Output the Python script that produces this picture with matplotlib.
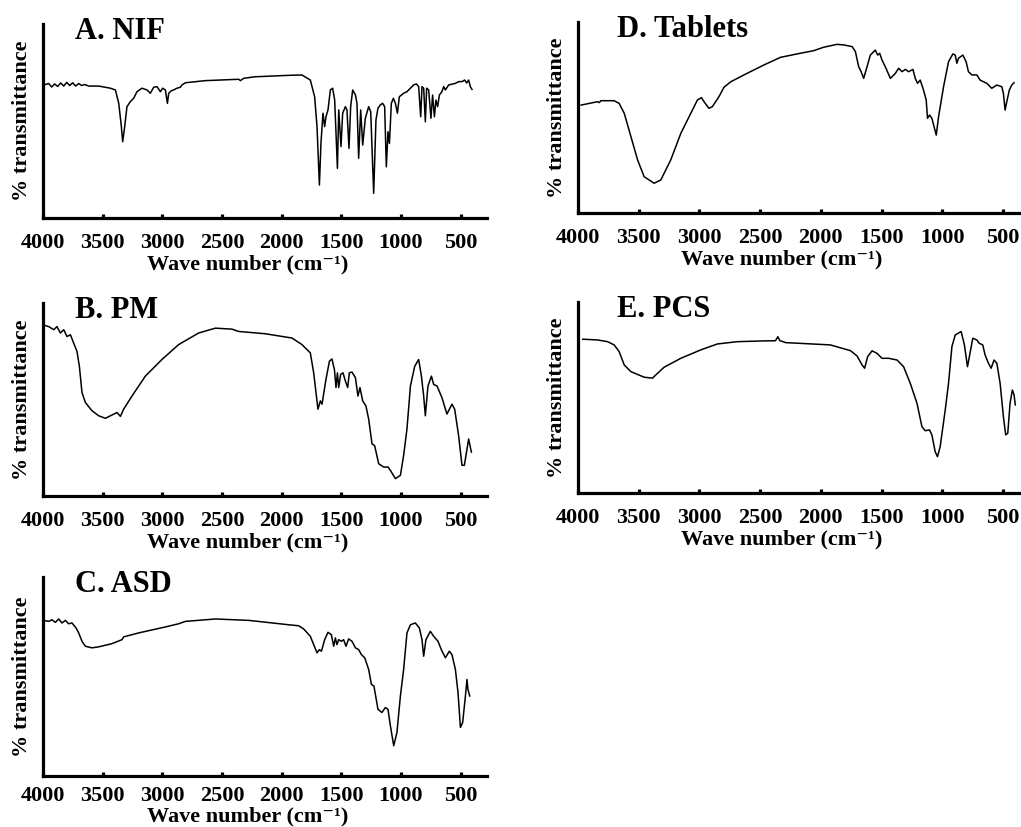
import matplotlib
matplotlib.use("Agg")
import matplotlib.pyplot as plt

plt.rcParams['font.family'] = ['Liberation Serif', 'DejaVu Serif']
plt.rcParams['font.weight'] = 'bold'

# FTIR spectra (wave number in cm-1, % transmittance on an arbitrary 0-100 scale)
nif_wn = [3994, 3952, 3927, 3902, 3877, 3852, 3826, 3801, 3776, 3751, 3726, 3701, 3676, 3650, 3617,
          3533, 3435, 3393, 3365, 3343, 3332, 3315, 3296, 3267, 3240, 3212, 3170, 3128, 3100, 3072,
          3044, 3016, 2997, 2974, 2957, 2946, 2924, 2904, 2877, 2848, 2835, 2806, 2639, 2360, 2345,
          2318, 2220, 1913, 1829, 1759, 1723, 1703, 1683, 1670, 1653, 1639, 1628, 1611, 1591, 1572,
          1555, 1532, 1521, 1502, 1488, 1465, 1452, 1435, 1421, 1404, 1381, 1368, 1354, 1337, 1320,
          1298, 1270, 1253, 1228, 1209, 1192, 1172, 1153, 1136, 1122, 1108, 1096, 1080, 1063, 1046,
          1029, 1013, 977, 949, 893, 870, 851, 834, 823, 809, 795, 784, 767, 748, 734, 719, 706, 692,
          677, 656, 641, 627, 599, 543, 516, 488, 465, 449, 432, 418, 404]
nif_t = [68.6, 69.3, 67.5, 69.1, 67.8, 69.6, 68.0, 69.9, 68.3, 69.7, 68.0, 69.3, 68.3, 68.8, 68.0,
         68.0, 66.9, 66.0, 59.1, 47.1, 39.3, 47.1, 57.4, 60.0, 61.7, 65.1, 66.9, 66.0, 64.3, 67.4,
         67.7, 65.1, 66.9, 66.0, 59.1, 64.3, 65.6, 66.0, 66.9, 67.4, 68.6, 69.7, 70.8, 71.5, 70.8,
         72.0, 72.8, 73.6, 73.7, 71.1, 62.5, 47.1, 17.0, 38.5, 54.0, 47.1, 52.2, 55.7, 66.0, 66.9,
         60.8, 25.6, 55.7, 36.8, 54.0, 57.4, 55.7, 35.9, 57.4, 66.0, 63.4, 59.1, 30.8, 55.7, 37.6,
         51.4, 57.4, 54.8, 12.7, 50.5, 56.6, 58.3, 59.1, 57.4, 26.4, 44.5, 38.5, 59.1, 61.7, 59.1,
         54.0, 62.5, 64.3, 65.1, 68.6, 69.1, 67.7, 52.2, 67.7, 66.9, 49.6, 66.9, 66.0, 51.4, 63.4,
         52.2, 60.8, 57.4, 63.4, 65.1, 67.7, 66.0, 68.6, 69.4, 70.3, 70.3, 71.1, 69.6, 71.1, 67.7, 66.3]

pm_wn = [4000, 3952, 3910, 3883, 3854, 3826, 3799, 3770, 3743, 3715, 3695, 3673, 3645, 3589, 3533,
         3477, 3422, 3380, 3351, 3324, 3254, 3142, 3003, 2863, 2695, 2555, 2416, 2360, 2136, 1913,
         1829, 1759, 1731, 1695, 1675, 1661, 1628, 1599, 1578, 1557, 1544, 1532, 1521, 1505, 1485,
         1465, 1446, 1432, 1410, 1381, 1360, 1343, 1320, 1293, 1270, 1242, 1220, 1186, 1144, 1108,
         1088, 1046, 1004, 977, 949, 920, 884, 851, 828, 809, 795, 773, 744, 725, 697, 656, 614,
         572, 549, 516, 488, 468, 432, 409]
pm_t = [88.7, 87.8, 86.2, 87.8, 84.5, 86.2, 82.7, 83.6, 79.3, 75.0, 67.3, 53.7, 48.6, 44.3, 41.7,
        40.4, 42.1, 43.4, 41.4, 45.1, 51.9, 62.2, 70.8, 78.5, 84.5, 87.0, 86.5, 85.3, 84.1, 81.9,
        78.5, 74.2, 63.9, 45.1, 49.4, 47.7, 60.5, 69.9, 71.1, 65.6, 56.3, 63.9, 56.3, 63.1, 63.9,
        59.6, 56.3, 63.9, 64.3, 61.4, 51.9, 56.3, 49.4, 46.8, 40.0, 27.2, 26.3, 16.9, 15.2, 15.2,
        13.5, 9.2, 10.9, 21.2, 34.9, 57.1, 67.3, 70.8, 62.2, 51.9, 41.7, 57.1, 62.2, 57.9, 57.1,
        51.1, 42.6, 47.7, 45.1, 31.4, 16.1, 16.1, 29.7, 22.9]

asd_wn = [3994, 3952, 3925, 3896, 3868, 3841, 3812, 3785, 3757, 3723, 3701, 3673, 3645, 3589, 3533,
          3422, 3338, 3324, 3198, 2974, 2863, 2806, 2555, 2276, 1941, 1857, 1815, 1759, 1731, 1703,
          1683, 1666, 1639, 1611, 1583, 1563, 1549, 1536, 1521, 1499, 1480, 1460, 1438, 1410, 1381,
          1354, 1331, 1303, 1270, 1247, 1226, 1192, 1159, 1130, 1108, 1088, 1060, 1033, 1004, 977,
          949, 920, 879, 845, 823, 809, 790, 753, 725, 689, 661, 627, 594, 572, 543, 521, 501, 482,
          459, 446, 438, 423]
asd_t = [78.2, 77.7, 78.5, 77.2, 78.9, 76.9, 78.2, 76.5, 76.9, 74.4, 71.9, 67.7, 65.2, 64.4, 64.9,
         66.5, 68.5, 69.9, 71.9, 74.9, 76.5, 77.7, 78.9, 78.2, 76.0, 75.5, 73.9, 70.2, 66.0, 61.9,
         63.5, 62.7, 68.5, 72.2, 71.0, 65.2, 69.4, 66.0, 68.5, 67.7, 68.5, 65.2, 68.9, 67.7, 64.4,
         63.5, 61.0, 59.4, 53.5, 46.0, 45.2, 33.5, 31.9, 34.4, 33.5, 25.2, 15.2, 21.9, 40.2, 53.5,
         71.9, 76.0, 76.9, 74.4, 68.5, 60.2, 68.5, 72.7, 70.2, 67.7, 63.5, 59.4, 62.7, 61.0, 53.5,
         41.9, 24.4, 26.9, 40.2, 48.5, 43.5, 40.2]

tab_wn = [3975, 3838, 3825, 3811, 3702, 3661, 3619, 3564, 3509, 3455, 3373, 3318, 3236, 3153, 3071,
          3016, 2983, 2962, 2921, 2893, 2866, 2839, 2798, 2742, 2633, 2469, 2332, 2194, 2058, 1976,
          1866, 1811, 1742, 1715, 1688, 1668, 1647, 1619, 1592, 1551, 1532, 1515, 1496, 1469, 1427,
          1386, 1359, 1331, 1304, 1277, 1241, 1222, 1203, 1181, 1154, 1132, 1121, 1104, 1085, 1049,
          1030, 989, 948, 912, 893, 879, 866, 830, 803, 784, 756, 715, 688, 633, 592, 550, 509, 496,
          482, 468, 447, 427, 408]
tab_t = [56.5, 58.3, 57.8, 58.8, 58.8, 57.4, 52.2, 40.0, 27.8, 19.0, 15.6, 17.3, 27.8, 41.7, 52.2,
         59.2, 60.4, 58.3, 54.8, 55.7, 58.3, 60.9, 65.8, 68.7, 72.3, 77.5, 81.5, 83.3, 85.0, 86.8,
         88.3, 88.0, 87.1, 84.5, 76.6, 74.0, 70.5, 76.6, 82.7, 85.3, 82.7, 83.6, 80.1, 76.6, 70.5,
         73.1, 75.8, 74.0, 75.2, 74.0, 75.2, 70.5, 67.9, 69.6, 64.4, 59.2, 49.6, 51.3, 49.6, 40.8,
         50.4, 66.1, 79.2, 83.3, 82.7, 78.4, 81.0, 82.7, 79.2, 74.0, 72.3, 72.3, 69.6, 67.9, 65.3,
         67.0, 66.1, 62.7, 53.9, 58.3, 64.4, 67.0, 68.2]

pcs_wn = [3961, 3838, 3756, 3702, 3661, 3619, 3564, 3455, 3386, 3359, 3291, 3153, 2989, 2852, 2687,
          2469, 2373, 2354, 2337, 2309, 2290, 2194, 1921, 1756, 1701, 1660, 1639, 1614, 1578, 1537,
          1496, 1441, 1372, 1318, 1263, 1208, 1167, 1140, 1104, 1085, 1058, 1039, 1017, 975, 948,
          920, 893, 844, 817, 792, 776, 748, 715, 696, 666, 647, 619, 597, 573, 550, 523, 496, 477,
          460, 441, 422, 408, 398]
pcs_t = [80.5, 80.1, 79.2, 77.5, 74.0, 67.0, 63.5, 60.6, 60.1, 61.8, 65.8, 70.5, 74.9, 78.0, 79.2,
         79.6, 79.7, 81.8, 79.7, 79.2, 78.7, 78.4, 77.5, 74.5, 71.7, 67.0, 65.3, 71.4, 74.4, 73.1,
         70.5, 70.5, 69.6, 66.1, 57.4, 47.0, 34.7, 32.6, 33.0, 30.4, 21.6, 19.0, 24.2, 43.5, 57.4,
         76.6, 82.7, 84.5, 77.5, 66.1, 71.4, 81.0, 80.1, 78.4, 77.5, 72.3, 67.9, 65.3, 69.6, 67.9,
         57.4, 40.0, 30.4, 31.3, 47.0, 53.9, 51.3, 46.1]

titles = ['A. NIF', 'B. PM', 'C. ASD', 'D. Tablets', 'E. PCS']
series = [(nif_wn, nif_t), (pm_wn, pm_t), (asd_wn, asd_t), (tab_wn, tab_t), (pcs_wn, pcs_t)]
xticks = [4000, 3500, 3000, 2500, 2000, 1500, 1000, 500]

# axes boxes in figure fractions, x-limits and label offsets for each panel
boxes = [[0.0421, 0.7364, 0.4349, 0.2346],
         [0.0421, 0.3997, 0.4349, 0.2339],
         [0.0421, 0.0617, 0.4349, 0.2406],
         [0.5661, 0.7424, 0.4339, 0.2310],
         [0.5661, 0.4039, 0.4339, 0.2310]]
xlims = [(4000, 278), (4000, 278), (4000, 278), (4000, 351), (4000, 351)]
title_dx = [23, 23, 23, 28, 28]
tick_pad = [10.5, 10.5, 7.5, 10.5, 10.5]
xlabel_dy = [-37, -37, -33, -37, -37]

fig = plt.figure(figsize=(10.21, 8.27), dpi=100)

for i in range(5):
    ax = fig.add_axes(boxes[i])
    wn, t = series[i]
    ax.plot(wn, t, color='black', lw=1.1)
    ax.set_xlim(*xlims[i])
    ax.set_ylim(0, 100)
    ax.set_xticks(xticks)
    ax.set_xticklabels([str(v) for v in xticks])
    ax.set_yticks([])
    for s in ['top', 'right']:
        ax.spines[s].set_visible(False)
    for s in ['left', 'bottom']:
        ax.spines[s].set_linewidth(2.3)
    ax.tick_params(axis='x', direction='in', length=3, width=2.3, pad=tick_pad[i],
                   labelsize=16)
    for lab in ax.get_xticklabels():
        lab.set_fontweight('bold')
    ax.set_ylabel('% transmittance', fontsize=16, fontweight='bold', labelpad=8)
    ax.annotate('Wave number (cm\u207b\u00b9)', xy=(0.46, 0), xycoords='axes fraction',
                xytext=(0, xlabel_dy[i]), textcoords='offset points', ha='center',
                va='baseline', fontsize=16, fontweight='bold')
    ax.annotate(titles[i], xy=(0, 1), xycoords='axes fraction', xytext=(title_dx[i], -10.5),
                textcoords='offset points', ha='left', va='baseline',
                fontsize=22, fontweight='bold')

fig.savefig('out.png', dpi=100)
